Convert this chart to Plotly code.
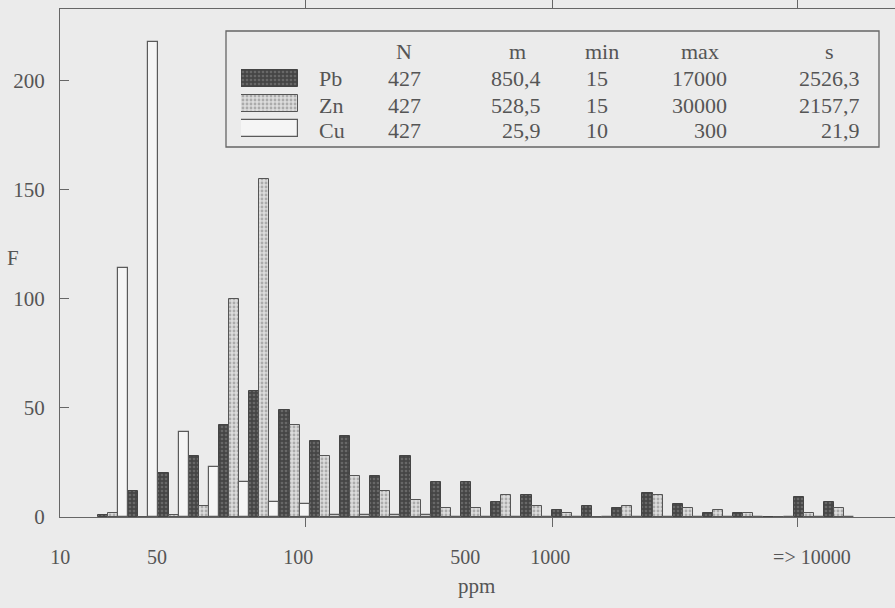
import plotly.graph_objects as go

# ---------------- data ----------------
bins = list(range(1, 26))
pb = [1, 12, 20, 28, 42, 58, 49, 35, 37, 19, 28, 16, 16, 7, 10, 3, 5, 4, 11, 6, 2, 2, 0, 9, 7]
zn = [2, 0, 1, 5, 100, 155, 42, 28, 19, 12, 8, 4, 4, 10, 5, 2, 0, 5, 10, 4, 3, 2, 0, 2, 4]
cu = [114, 218, 39, 23, 16, 7, 6, 1, 1, 1, 1, 0, 0, 0, 0, 0, 0, 0, 0, 0, 0, 0, 0, 0, 0]

tick_pos = [-0.75, 2.45, 7.12, 12.64, 15.45, 24.1]
tick_labels = ["10", "50", "100", "500", "1000", "=> 10000"]
minor_tick_pos = [7.35, 15.51, 23.61]

y_ticks = [0, 50, 100, 150, 200]

elements = ["Pb", "Zn", "Cu"]
stat_N = ["427", "427", "427"]
stat_m = ["850,4", "528,5", "25,9"]
stat_min = ["15", "15", "10"]
stat_max = ["17000", "30000", "300"]
stat_s = ["2526,3", "2157,7", "21,9"]
headers = ["N", "m", "min", "max", "s"]

# ---------------- layout helpers ----------------
# the plot area runs a few pixels past the 895 px window so its right frame edge is cut off
W, H = 899, 608
L, R, T, B = 60, 0, 9, 91
PW = W - L - R
PH = H - T - B


def px(x):
    return (x - L) / PW


def py(y):
    return (H - B - y) / PH


BG = "#ebebeb"
INK = "#555555"
LINE = "#666666"
FONT = "Liberation Serif, Times New Roman, serif"

styles = {
    "Pb": dict(color="#474747",
               pattern=dict(shape=".", fgcolor="#8c8c8c", bgcolor="#454545", size=4, solidity=0.35),
               line=dict(color="#444444", width=1)),
    "Zn": dict(color="#d6d6d6",
               pattern=dict(shape=".", fgcolor="#7a7a7a", bgcolor="#dcdcdc", size=4, solidity=0.4),
               line=dict(color="#555555", width=1)),
    "Cu": dict(color="#f5f5f5", line=dict(color="#5a5a5a", width=1.2)),
}

fig = go.Figure()
for name, vals in zip(elements, [pb, zn, cu]):
    fig.add_trace(go.Bar(x=bins, y=vals, name=name, marker=styles[name],
                         showlegend=False, hoverinfo="x+y+name"))

# legend swatches (patterned) on helper axes
for i, name in enumerate(elements):
    fig.add_trace(go.Bar(x=[1], y=[i], orientation="h", width=0.68, offset=-0.34,
                         marker=styles[name], xaxis="x2", yaxis="y2",
                         showlegend=False, hoverinfo="skip"))

annotations = []
tf = dict(family=FONT, size=22, color=INK)
# header row
for htxt, cx in zip(headers, [404, 517, 602, 700, 829]):
    annotations.append(dict(text=htxt, x=px(cx), y=py(52), xref="paper", yref="paper",
                            xanchor="center", yanchor="middle", showarrow=False, font=tf))
rows_y = [79, 105, 130]
for i in range(3):
    yy = py(rows_y[i])
    cells = [(elements[i], 317, "left"), (stat_N[i], 404, "center"), (stat_m[i], 543, "right"),
             (stat_min[i], 584, "left"), (stat_max[i], 729, "right"), (stat_s[i], 862, "right")]
    for txt, cx, anc in cells:
        annotations.append(dict(text=txt, x=px(cx), y=yy, xref="paper", yref="paper",
                                xanchor=anc, yanchor="middle", showarrow=False, font=tf))

af = dict(family=FONT, size=21, color=INK)
annotations.append(dict(text="F", x=px(13), y=py(258), xref="paper", yref="paper",
                        xanchor="center", yanchor="middle", showarrow=False, font=af))
annotations.append(dict(text="ppm", x=px(476), y=py(586), xref="paper", yref="paper",
                        xanchor="center", yanchor="middle", showarrow=False, font=af))

# x axis: one unit per bin group, group 1 centred at ~113 px, 30.25 px per group
x0_unit = 1 - (113.1 - L) / 30.25
x1_unit = 1 + (L + PW - 113.1) / 30.25

fig.update_layout(
    width=W, height=H,
    margin=dict(l=L, r=R, t=T, b=B, autoexpand=False),
    paper_bgcolor=BG, plot_bgcolor=BG,
    barmode="group", bargap=0, bargroupgap=0,
    font=dict(family=FONT, size=21, color=INK),
    annotations=annotations,
    shapes=[dict(type="rect", xref="paper", yref="paper",
                 x0=px(226), x1=px(879), y0=py(147), y1=py(31),
                 line=dict(color=LINE, width=1.3), fillcolor="rgba(0,0,0,0)")],
    xaxis=dict(range=[x0_unit, x1_unit], tickvals=tick_pos, ticktext=tick_labels,
               ticks="", showline=True, linecolor=LINE, linewidth=1.3, mirror="ticks",
               showgrid=False, zeroline=False, ticklabelstandoff=22, automargin=False,
               tickfont=dict(family=FONT, size=20, color=INK),
               minor=dict(tickvals=minor_tick_pos, ticks="outside", ticklen=9,
                          tickcolor=LINE, tickwidth=1.3, showgrid=False)),
    yaxis=dict(range=[0, 233], tickvals=y_ticks, ticks="inside", ticklen=9,
               tickcolor=LINE, tickwidth=1.3, showline=True, linecolor=LINE, linewidth=1.3,
               showgrid=False, zeroline=False, ticklabelstandoff=10, automargin=False,
               tickfont=dict(family=FONT, size=21, color=INK)),
    xaxis2=dict(domain=[px(241), px(298)], range=[0, 1], visible=False, anchor="y2",
                fixedrange=True),
    yaxis2=dict(domain=[py(141), py(66)], range=[2.5, -0.5], visible=False, anchor="x2",
                fixedrange=True),
)

fig.write_html(
    "out.html",
    config={"displayModeBar": False},
    post_script=("document.body.style.margin='0';"
                 "document.body.style.overflow='hidden';"
                 "document.body.style.background='" + BG + "';"),
)
